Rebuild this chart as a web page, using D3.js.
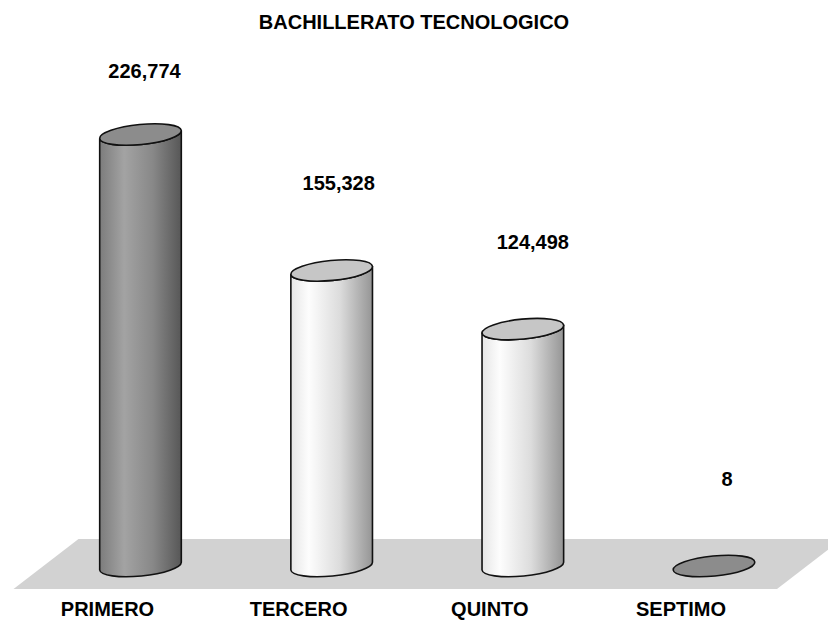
<!DOCTYPE html>
<html>
<head>
<meta charset="utf-8">
<script src="https://cdn.jsdelivr.net/npm/d3@7"></script>
<style>
  body { margin: 0; background: #fff; }
  text { font-family: "Liberation Sans", Arial, sans-serif; font-weight: bold; fill: #000; }
</style>
</head>
<body>
<div id="chart"></div>
<script>
var title = "BACHILLERATO TECNOLOGICO";
var categories = ["PRIMERO", "TERCERO", "QUINTO", "SEPTIMO"];
var values = [226774, 155328, 124498, 8];
var valueLabels = ["226,774", "155,328", "124,498", "8"];

// dark / light cylinders, like the original
var palette = ["dark", "light", "light", "dark"];

var width = 828, height = 622;
var baseY = 566;

var svg = d3.select("#chart").append("svg")
  .attr("width", width)
  .attr("height", height);

var defs = svg.append("defs");

var darkGrad = defs.append("linearGradient").attr("id", "g-dark");
darkGrad.append("stop").attr("offset", "0%").attr("stop-color", "#7c7c7c");
darkGrad.append("stop").attr("offset", "30%").attr("stop-color", "#a3a3a3");
darkGrad.append("stop").attr("offset", "65%").attr("stop-color", "#888");
darkGrad.append("stop").attr("offset", "100%").attr("stop-color", "#575757");

var lightGrad = defs.append("linearGradient").attr("id", "g-light");
lightGrad.append("stop").attr("offset", "0%").attr("stop-color", "#e6e6e6");
lightGrad.append("stop").attr("offset", "22%").attr("stop-color", "#fdfdfd");
lightGrad.append("stop").attr("offset", "60%").attr("stop-color", "#dcdcdc");
lightGrad.append("stop").attr("offset", "100%").attr("stop-color", "#959595");

var topFill = { dark: "#8c8c8c", light: "#c6c6c6" };

var x = d3.scalePoint()
  .domain(categories)
  .range([140.5, 714]);

var y = d3.scaleLinear()
  .domain([0, 226774])
  .range([baseY, 134.5]);

// floor
var x0 = x(categories[0]), x3 = x(categories[categories.length - 1]);
var floor = [
  [x0 - 62, 539], [x3 + 128, 539], [x3 + 63, 589], [x0 - 127, 589]
];
svg.append("path")
  .attr("d", "M" + floor.map(function(p){ return p.join(","); }).join("L") + "Z")
  .attr("fill", "#d2d2d2");

// title
svg.append("text")
  .attr("x", 414)
  .attr("y", 29)
  .attr("text-anchor", "middle")
  .style("font-size", "20px")
  .text(title);

var rx = 41, ry = 10, rot = -5.6;
var dx = rx * Math.cos(rot * Math.PI / 180);
var dy = rx * Math.sin(rot * Math.PI / 180);

var data = categories.map(function(c, i){
  return { cat: c, i: i, v: values[i], label: valueLabels[i], kind: palette[i] };
});

var bars = svg.selectAll(".bar")
  .data(data)
  .enter()
  .append("g")
  .attr("class", "bar");

// body
bars.filter(function(d){ return y(0) - y(d.v) > 2; })
  .append("path")
  .attr("d", function(d){
    var cx = x(d.cat), top = y(d.v), bot = y(0);
    return "M" + (cx - dx) + "," + (top - dy) +
      "L" + (cx - dx) + "," + (bot - dy) +
      "A" + rx + "," + ry + " " + rot + " 0 0 " + (cx + dx) + "," + (bot + dy) +
      "L" + (cx + dx) + "," + (top + dy) +
      "A" + rx + "," + ry + " " + rot + " 0 1 " + (cx - dx) + "," + (top - dy) + "Z";
  })
  .attr("fill", function(d){ return "url(#g-" + d.kind + ")"; })
  .attr("stroke", "#111")
  .attr("stroke-width", 1.6)
  .attr("stroke-linejoin", "round");

// top ellipse
bars.append("ellipse")
  .attr("cx", function(d){ return x(d.cat); })
  .attr("cy", function(d){ return y(d.v); })
  .attr("rx", rx)
  .attr("ry", ry)
  .attr("transform", function(d){ return "rotate(" + rot + "," + x(d.cat) + "," + y(d.v) + ")"; })
  .attr("fill", function(d){ return topFill[d.kind]; })
  .attr("stroke", "#111")
  .attr("stroke-width", 1.6);

// value labels (shift right a bit more towards the back of the chart)
bars.append("text")
  .attr("x", function(d){ return x(d.cat) + 4 + 3 * d.i; })
  .attr("y", function(d){ return Math.max(y(d.v) - 80, 78); })
  .attr("text-anchor", "middle")
  .style("font-size", "20px")
  .text(function(d){ return d.label; });

// category labels
svg.selectAll(".cat")
  .data(categories)
  .enter()
  .append("text")
  .attr("class", "cat")
  .attr("x", function(d){ return x(d) - 33; })
  .attr("y", 616)
  .attr("text-anchor", "middle")
  .style("font-size", "20px")
  .text(function(d){ return d; });
</script>
</body>
</html>
